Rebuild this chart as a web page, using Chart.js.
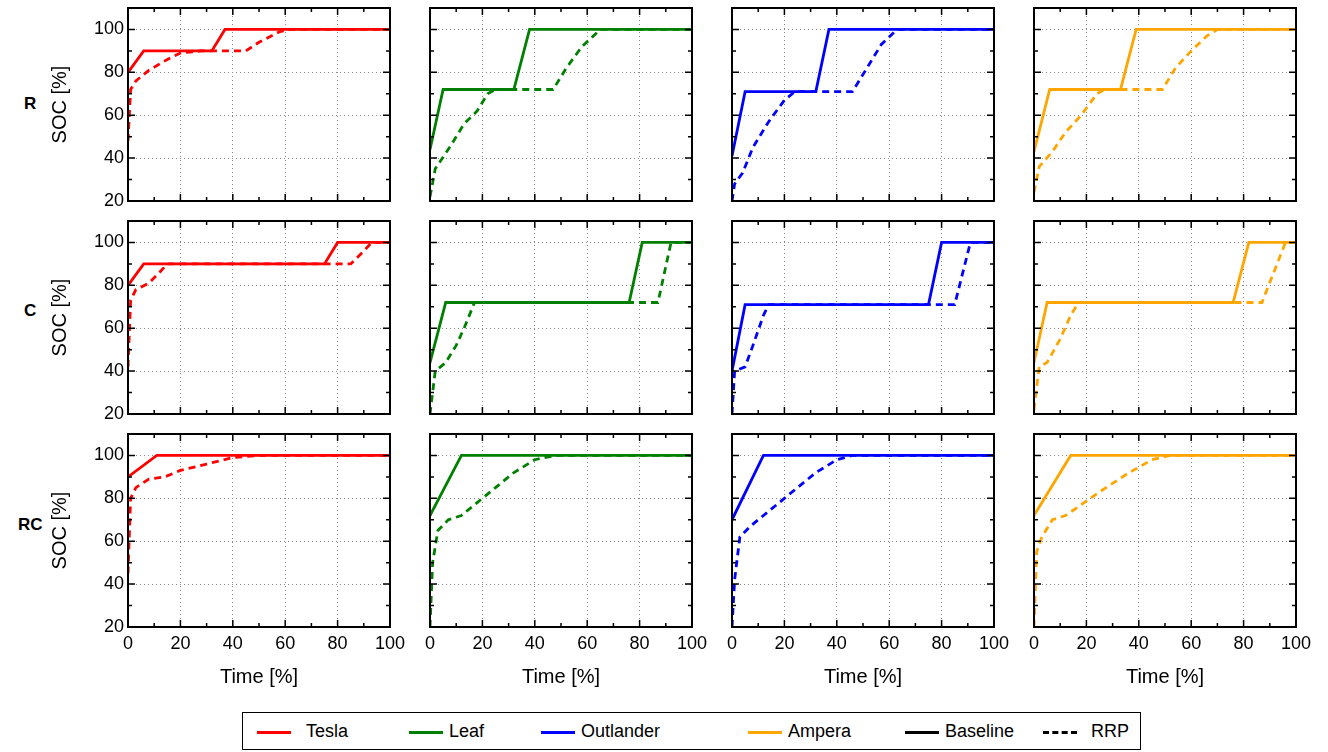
<!DOCTYPE html>
<html>
<head>
<meta charset="utf-8">
<script src="https://cdn.jsdelivr.net/npm/chart.js@4/dist/chart.umd.min.js"></script>
<style>
  body { margin: 0; background: #fff; width: 1328px; height: 752px; position: relative; overflow: hidden;
         font-family: "Liberation Sans", Arial, sans-serif; }
  canvas { position: absolute; }
  .row { position: absolute; font-weight: bold; font-size: 17px; }
  #legend { position: absolute; left: 242px; top: 712px; width: 897px; height: 36px; border: 1px solid #000; }
  .item { position: absolute; top: 8px; font-size: 18px; }
  .sw { position: absolute; top: 18px; width: 34px; height: 0; border-top: 3px solid; }
</style>
</head>
<body>
<div class="row" style="left:24px;top:94px">R</div>
<div class="row" style="left:24px;top:301px">C</div>
<div class="row" style="left:18px;top:515px">RC</div>
<div id="legend">
  <div class="sw" style="left:14px;border-color:#f00"></div><div class="item" style="left:63px">Tesla</div>
  <div class="sw" style="left:166px;border-color:#008000"></div><div class="item" style="left:206px">Leaf</div>
  <div class="sw" style="left:298px;border-color:#00f"></div><div class="item" style="left:338px">Outlander</div>
  <div class="sw" style="left:505px;border-color:#ffa500"></div><div class="item" style="left:545px">Ampera</div>
  <div class="sw" style="left:662px;border-color:#000"></div><div class="item" style="left:702px">Baseline</div>
  <div class="sw" style="left:800px;border-color:#000;border-top-style:dashed"></div><div class="item" style="left:848px">RRP</div>
</div>
<script>
// [time %, SOC %] pairs
const R_tesla_base = [[0,80],[6,90],[32,90],[37,100],[100,100]];
const R_tesla_rrp = [[0,48],[1,72],[3,76],[8,81],[15,86],[20,89],[28,90],[45,90],[50,94],[58,99],[62,100],[100,100]];
const R_leaf_base = [[0,44],[5,72],[32,72],[38,100],[100,100]];
const R_leaf_rrp = [[0,22],[2,35],[8,46],[13,56],[18,62],[22,70],[25,72],[47,72],[52,82],[58,92],[65,100],[100,100]];
const R_outl_base = [[0,41],[5,71],[32,71],[37,100],[100,100]];
const R_outl_rrp = [[0,20],[1,28],[4,33],[8,45],[14,57],[20,67],[24,71],[46,71],[51,81],[57,93],[63,100],[100,100]];
const R_amp_base = [[0,43],[6,72],[33,72],[39,100],[100,100]];
const R_amp_rrp = [[0,24],[2,36],[7,43],[12,52],[18,60],[24,70],[27,72],[49,72],[54,82],[60,90],[66,97],[70,100],[100,100]];

const C_tesla_base = [[0,80],[6,90],[75,90],[80,100],[100,100]];
const C_tesla_rrp = [[0,42],[1,73],[3,78],[8,81],[12,86],[15,90],[85,90],[90,96],[93,100],[100,100]];
const C_leaf_base = [[0,44],[6,72],[76,72],[81,100],[100,100]];
const C_leaf_rrp = [[0,20],[2,40],[6,44],[10,52],[13,60],[17,72],[87,72],[92,100],[100,100]];
const C_outl_base = [[0,40],[5,71],[75,71],[80,100],[100,100]];
const C_outl_rrp = [[0,20],[1,40],[5,42],[8,52],[12,66],[14,71],[85,71],[91,100],[100,100]];
const C_amp_base = [[0,44],[5,72],[76,72],[82,100],[100,100]];
const C_amp_rrp = [[0,22],[2,42],[5,44],[10,55],[14,66],[17,72],[87,72],[96,100],[100,100]];

const RC_tesla_base = [[0,90],[11,100],[100,100]];
const RC_tesla_rrp = [[0,45],[1,80],[3,85],[8,89],[14,90],[20,93],[30,96],[40,99],[50,100],[100,100]];
const RC_leaf_base = [[0,72],[12,100],[100,100]];
const RC_leaf_rrp = [[0,20],[1,50],[3,65],[7,70],[12,72],[18,78],[25,85],[32,92],[40,98],[48,100],[100,100]];
const RC_outl_base = [[0,70],[12,100],[100,100]];
const RC_outl_rrp = [[0,20],[1,42],[3,62],[7,67],[12,72],[18,78],[25,85],[32,92],[40,98],[46,100],[100,100]];
const RC_amp_base = [[0,72],[14,100],[100,100]];
const RC_amp_rrp = [[0,20],[1,55],[3,62],[7,70],[12,72],[18,77],[25,83],[35,91],[45,98],[52,100],[100,100]];

const colors = ['#ff0000', '#008000', '#0000ff', '#ffa500'];
const panels = [
  [[R_tesla_base, R_tesla_rrp], [R_leaf_base, R_leaf_rrp], [R_outl_base, R_outl_rrp], [R_amp_base, R_amp_rrp]],
  [[C_tesla_base, C_tesla_rrp], [C_leaf_base, C_leaf_rrp], [C_outl_base, C_outl_rrp], [C_amp_base, C_amp_rrp]],
  [[RC_tesla_base, RC_tesla_rrp], [RC_leaf_base, RC_leaf_rrp], [RC_outl_base, RC_outl_rrp], [RC_amp_base, RC_amp_rrp]]
];
const colLeft = [128, 430, 732, 1034];
const rowTop = [8, 221, 434];
const plotW = 262, plotH = 193;
const PAD = 26;

// frame and inward ticks like gnuplot
const frame = {
  id: 'frame',
  afterDatasetsDraw(chart) {
    const { ctx, chartArea: a, scales: { x, y } } = chart;
    ctx.save();
    ctx.strokeStyle = '#000';
    ctx.lineWidth = 1.5;
    ctx.beginPath();
    for (let v = 0; v <= 100; v += 10) {
      const px = x.getPixelForValue(v), len = v % 20 === 0 ? 7 : 4;
      ctx.moveTo(px, a.bottom); ctx.lineTo(px, a.bottom - len);
      ctx.moveTo(px, a.top); ctx.lineTo(px, a.top + len);
    }
    for (let v = 20; v <= 110; v += 10) {
      const py = y.getPixelForValue(v), len = v % 20 === 0 ? 7 : 4;
      ctx.moveTo(a.left, py); ctx.lineTo(a.left + len, py);
      ctx.moveTo(a.right, py); ctx.lineTo(a.right - len, py);
    }
    ctx.stroke();
    ctx.lineWidth = 2;
    ctx.strokeRect(a.left, a.top, a.right - a.left, a.bottom - a.top);
    ctx.restore();
  }
};

panels.forEach((row, r) => row.forEach((p, c) => {
  const yW = c === 0 ? 80 : 0;
  const padL = c === 0 ? 0 : PAD;
  const xH = r === 2 ? 66 : 0;
  const cv = document.createElement('canvas');
  const w = padL + yW + plotW + PAD, h = PAD + plotH + xH + (r === 2 ? 0 : PAD);
  cv.width = w; cv.height = h;
  cv.style.left = (colLeft[c] - yW - padL) + 'px';
  cv.style.top = (rowTop[r] - PAD) + 'px';
  cv.style.width = w + 'px'; cv.style.height = h + 'px';
  document.body.appendChild(cv);
  const grid = { drawTicks: false, lineWidth: 1 };
  new Chart(cv, {
    type: 'line',
    data: {
      datasets: p.map((s, i) => ({
        data: s.map(([x, y]) => ({ x, y })),
        borderColor: colors[c], borderWidth: 2.8,
        borderDash: i === 1 ? [7, 5] : [],
        pointRadius: 0, tension: 0
      }))
    },
    options: {
      responsive: false, animation: false,
      devicePixelRatio: 1,
      layout: { padding: { top: PAD, right: PAD, left: padL, bottom: r === 2 ? 0 : PAD } },
      plugins: { legend: { display: false }, tooltip: { enabled: false } },
      scales: {
        x: {
          type: 'linear', min: 0, max: 100,
          afterFit: s => { s.height = xH; },
          border: { display: false, dash: [1, 3] },
          grid: { ...grid, color: ctx => (ctx.tick.value === 0 || ctx.tick.value === 100) ? 'rgba(0,0,0,0)' : '#888' },
          ticks: { display: r === 2, stepSize: 20, padding: 6, color: '#000', font: { size: 18, family: 'Liberation Sans' } },
          title: { display: r === 2, text: 'Time [%]', color: '#000', padding: { top: 6 }, font: { size: 20, family: 'Liberation Sans' } }
        },
        y: {
          min: 20, max: 110,
          afterFit: s => { s.width = yW; },
          afterBuildTicks: s => { s.ticks = [20, 40, 60, 80, 100].map(v => ({ value: v })); },
          border: { display: false, dash: [1, 3] },
          grid: { ...grid, color: ctx => ctx.tick.value === 20 ? 'rgba(0,0,0,0)' : '#888' },
          ticks: { display: c === 0, padding: 4, color: '#000', font: { size: 18, family: 'Liberation Sans' } },
          title: { display: c === 0, text: 'SOC [%]', color: '#000', padding: 0, font: { size: 20, family: 'Liberation Sans' } }
        }
      }
    },
    plugins: [frame]
  });
}));
</script>
</body>
</html>
